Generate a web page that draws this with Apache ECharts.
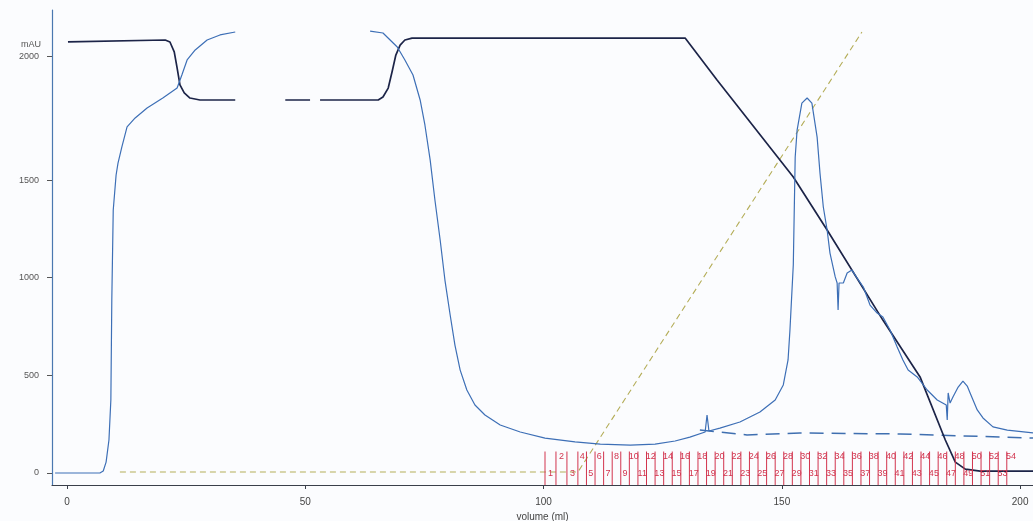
<!DOCTYPE html>
<html>
<head>
<meta charset="utf-8">
<script src="https://cdn.jsdelivr.net/npm/echarts@6/dist/echarts.min.js"></script>
<style>
html,body{margin:0;padding:0;background:#fbfcfe;}
#chart{width:1033px;height:521px;}
</style>
</head>
<body>
<div id="chart"></div>
<script>
// ---- data (volume in ml, signal in mAU) ----
const uvVolume = [-2.5,6.9,7.6,8.2,8.8,9.2,9.4,9.7,10.3,10.7,11.5,12.6,14.3,16.8,20.1,23.1,24.1,25.2,26.9,29.4,32.1,35.3,
  50.0,
  63.6,66.3,69.3,70.9,72.6,74.1,75.1,76.2,77.2,78.3,79.3,80.4,81.4,82.5,83.9,85.6,87.7,90.9,95.1,100.3,106.6,111.9,118.2,123.4,127.6,130.7,133.9,134.3,134.7,137.0,141.2,145.4,148.6,150.3,151.3,
  151.7,152.4,152.8,153.2,154.2,155.3,156.3,157.4,158.0,158.7,159.5,160.1,161.2,161.6,161.8,162.0,162.9,163.7,164.7,165.8,167.1,168.5,170.0,171.2,172.7,174.2,175.4,176.5,178.4,180.5,182.6,184.5,184.7,184.9,185.3,185.9,187.0,188.0,188.9,189.5,191.0,192.2,194.3,197.3,202.7];
const uvSignal = [0,0,10,56,169,374,886,1347,1526,1587,1669,1772,1818,1869,1920,1971,2038,2115,2166,2217,2243,2258,
  null,
  2263,2253,2181,2115,2038,1910,1782,1603,1398,1193,988,809,655,527,425,348,297,246,210,179,159,148,143,148,164,184,210,297,215,230,261,312,374,451,579,
  732,1065,1618,1756,1894,1920,1894,1720,1536,1362,1244,1126,1004,973,835,973,973,1024,1039,998,952,860,819,799,732,645,579,527,492,425,374,348,271,410,358,389,440,471,445,410,323,282,236,220,205];

const condVolume = [0.2,20.6,21.6,22.5,23.1,23.7,24.6,25.8,27.9,35.3,40.0,45.8,51.0,52.0,53.1,65.3,66.3,67.4,68.2,69.0,69.9,70.9,72.4,129.7,136.4,152.4,159.5,171.2,179.0,184.3,186.4,188.5,191.6,202.7];
const condSignal = [2207,2217,2207,2156,2074,1987,1946,1920,1910,1910,null,1910,1910,null,1910,1910,1925,1971,2053,2140,2191,2217,2227,2227,2012,1516,1244,783,492,169,56,20,10,10];

const concVolume = [11.1,107.2,166.8];
const concSignal = [5,5,2258];

const uv2Volume = [132.8,142.7,153.8,174.8,202.7];
const uv2Signal = [220,195,205,200,179];

const fracStart = [100.3,102.6,104.9,107.2,109.0,110.8,112.6,114.4,116.2,118.0,119.8,121.6,123.4,125.2,127.0,128.8,130.6,132.4,134.2,136.0,137.8,139.6,141.4,143.2,145.0,146.8,148.6,150.4,152.2,154.0,155.8,157.6,159.4,161.2,163.0,164.8,166.6,168.4,170.2,172.0,173.8,175.6,177.4,179.2,181.0,182.8,184.6,186.4,188.2,190.0,191.8,193.6,195.4,197.2];
const fracLabels = ['1','2','3','4','5','6','7','8','9','10','11','12','13','14','15','16','17','18','19','20','21','22','23','24','25','26','27','28','29','30','31','32','33','34','35','36','37','38','39','40','41','42','43','44','45','46','47','48','49','50','51','52','53','54'];

const xTickValues = [0,50,100,150,200];
const xTickLabels = ['0','50','100','150','200'];
const yTickValues = [0,500,1000,1500,2135];
const yTickLabels = ['0','500','1000','1500','2000'];

const X_MIN = -3.15, X_MAX = 202.7, Y_MIN = -61.4, Y_MAX = 2370.7;

function pairs(xs, ys){ return xs.map((x,i)=>[x, ys[i]]); }

const chart = echarts.init(document.getElementById('chart'), null, {renderer:'canvas'});
const red = '#d2344e';

chart.setOption({
  animation:false,
  backgroundColor:'#fbfcfe',
  grid:{left:52,right:0,top:10,bottom:36,containLabel:false,outerBoundsMode:'none'},
  xAxis:{
    type:'value',min:X_MIN,max:X_MAX,
    name:'volume (ml)',nameLocation:'middle',nameGap:26,
    nameTextStyle:{fontFamily:'Liberation Sans',fontSize:10,color:'#444'},
    axisLine:{onZero:false,lineStyle:{color:'#3a3f4a',width:1.2}},
    axisTick:{show:true,customValues:xTickValues,length:4,lineStyle:{color:'#3a3f4a'}},
    axisLabel:{customValues:xTickValues,formatter:(v)=>xTickLabels[xTickValues.indexOf(v)],
      fontFamily:'Liberation Sans',fontSize:10,color:'#444',margin:12},
    splitLine:{show:false}
  },
  yAxis:{
    type:'value',min:Y_MIN,max:Y_MAX,
    axisLine:{show:true,onZero:false,lineStyle:{color:'#4a78b0',width:1.2}},
    axisTick:{show:true,customValues:yTickValues,length:5,lineStyle:{color:'#555'}},
    axisLabel:{customValues:yTickValues,formatter:(v)=>yTickLabels[yTickValues.indexOf(v)],
      fontFamily:'Liberation Sans',fontSize:9,color:'#555',margin:13},
    splitLine:{show:false}
  },
  graphic:[{type:'text',left:21,top:40,style:{text:'mAU',fontFamily:'Liberation Sans',fontSize:9,fill:'#555'}}],
  series:[
    {type:'line',name:'Conc',data:pairs(concVolume,concSignal),symbol:'none',
      lineStyle:{color:'#b4ad58',width:1.1,type:[6,4]},z:2},
    {type:'line',name:'UV2',data:pairs(uv2Volume,uv2Signal),symbol:'none',
      lineStyle:{color:'#3f6fb0',width:1.5,type:[14,8]},z:3},
    {type:'line',name:'Cond',data:pairs(condVolume,condSignal),symbol:'none',connectNulls:false,
      lineStyle:{color:'#1c2448',width:1.7},z:4},
    {type:'line',name:'UV',data:pairs(uvVolume,uvSignal),symbol:'none',connectNulls:false,
      lineStyle:{color:'#3d6fb6',width:1.2},z:5},
    {type:'custom',name:'Fractions',z:6,
      data:fracStart.map((x,i)=>[x,i]),
      encode:{x:0,y:-1},
      renderItem:function(params, api){
        const x = api.value(0), i = api.value(1);
        const next = i+1 < fracStart.length ? fracStart[i+1] : x+1.8;
        const top = api.coord([x, 110]);
        const bot = api.coord([x, Y_MIN]);
        const labelRow = (i%2===0) ? -5 : 85;
        const lp = api.coord([(x+next)/2, labelRow]);
        return {type:'group',children:[
          {type:'line',shape:{x1:top[0],y1:top[1],x2:bot[0],y2:bot[1]},style:{stroke:red,lineWidth:1}},
          {type:'text',x:lp[0],y:lp[1],style:{text:fracLabels[i],fill:red,fontSize:9,fontFamily:'Liberation Sans',align:'center',verticalAlign:'middle'}}
        ]};
      }
    }
  ]
});
</script>
</body>
</html>
